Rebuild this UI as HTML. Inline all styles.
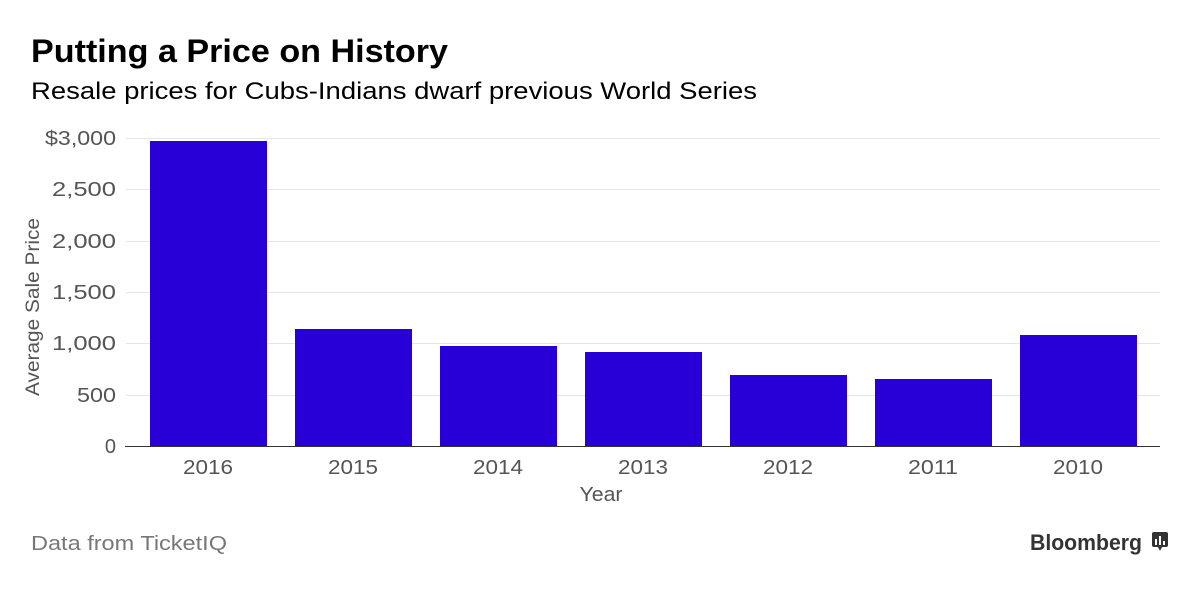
<!DOCTYPE html>
<html><head><style>
body{margin:0;background:#fff;width:1200px;height:586px;overflow:hidden;font-family:"Liberation Sans",sans-serif}
</style></head><body>
<svg width="1200" height="586" xmlns="http://www.w3.org/2000/svg" font-family="Liberation Sans, sans-serif">
<text x="31" y="62" font-size="32" font-weight="bold" fill="#000" textLength="417" lengthAdjust="spacingAndGlyphs">Putting a Price on History</text>
<text x="31" y="99" font-size="24" fill="#000" textLength="726" lengthAdjust="spacingAndGlyphs">Resale prices for Cubs-Indians dwarf previous World Series</text>
<g stroke="#e6e6e6" stroke-width="1">
<line x1="126" x2="1160" y1="138.5" y2="138.5"/>
<line x1="126" x2="1160" y1="189.5" y2="189.5"/>
<line x1="126" x2="1160" y1="241.5" y2="241.5"/>
<line x1="126" x2="1160" y1="292.5" y2="292.5"/>
<line x1="126" x2="1160" y1="343.5" y2="343.5"/>
<line x1="126" x2="1160" y1="395.5" y2="395.5"/>
</g>
<g font-size="20" fill="#555" text-anchor="end" lengthAdjust="spacingAndGlyphs">
<text x="116" y="145" textLength="71" lengthAdjust="spacingAndGlyphs">$3,000</text>
<text x="116" y="196" textLength="64" lengthAdjust="spacingAndGlyphs">2,500</text>
<text x="116" y="248" textLength="64" lengthAdjust="spacingAndGlyphs">2,000</text>
<text x="116" y="299" textLength="64" lengthAdjust="spacingAndGlyphs">1,500</text>
<text x="116" y="350" textLength="64" lengthAdjust="spacingAndGlyphs">1,000</text>
<text x="116" y="402" textLength="39" lengthAdjust="spacingAndGlyphs">500</text>
<text x="116" y="453">0</text>
</g>
<text transform="translate(39,307) rotate(-90)" font-size="19" fill="#555" text-anchor="middle" textLength="178" lengthAdjust="spacingAndGlyphs">Average Sale Price</text>
<g fill="#2800d7">
<rect x="150" y="141" width="117" height="305"/>
<rect x="295" y="329" width="117" height="117"/>
<rect x="440" y="346" width="117" height="100"/>
<rect x="585" y="352" width="117" height="94"/>
<rect x="730" y="375" width="117" height="71"/>
<rect x="875" y="379" width="117" height="67"/>
<rect x="1020" y="335" width="117" height="111"/>
</g>
<line x1="125" x2="1160" y1="446.5" y2="446.5" stroke="#333" stroke-width="1"/>
<g font-size="20" fill="#555" text-anchor="middle">
<text x="208" y="474" textLength="50" lengthAdjust="spacingAndGlyphs">2016</text>
<text x="353" y="474" textLength="50" lengthAdjust="spacingAndGlyphs">2015</text>
<text x="498" y="474" textLength="50" lengthAdjust="spacingAndGlyphs">2014</text>
<text x="643" y="474" textLength="50" lengthAdjust="spacingAndGlyphs">2013</text>
<text x="788" y="474" textLength="50" lengthAdjust="spacingAndGlyphs">2012</text>
<text x="933" y="474" textLength="50" lengthAdjust="spacingAndGlyphs">2011</text>
<text x="1078" y="474" textLength="50" lengthAdjust="spacingAndGlyphs">2010</text>
<text x="601" y="501" textLength="43" lengthAdjust="spacingAndGlyphs">Year</text>
</g>
<text x="31" y="550" font-size="20" fill="#777" textLength="196" lengthAdjust="spacingAndGlyphs">Data from TicketIQ</text>
<text x="1030" y="550" font-size="22" font-weight="bold" fill="#333" textLength="112" lengthAdjust="spacingAndGlyphs">Bloomberg</text>
<rect x="1152" y="532" width="16" height="15" rx="2" fill="#333"/>
<polygon points="1158,547 1162,547 1160,551" fill="#333"/>
<g fill="#fff"><rect x="1155" y="539" width="2" height="6"/><rect x="1159" y="536" width="2" height="9"/><rect x="1163" y="541" width="2" height="4"/></g>
</svg>
</body></html>
